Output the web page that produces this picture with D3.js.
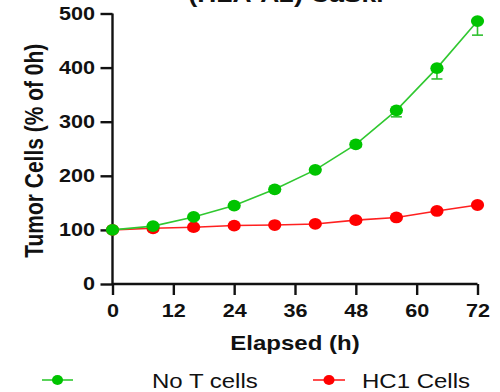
<!DOCTYPE html>
<html>
<head>
<meta charset="utf-8">
<script src="https://cdn.jsdelivr.net/npm/d3@7/dist/d3.min.js"></script>
<style>
  html, body { margin: 0; padding: 0; background: #fff; }
  svg { display: block; }
  text { font-family: "Liberation Sans", Arial, Helvetica, sans-serif; fill: #111; }
</style>
</head>
<body>
<svg id="chart" width="500" height="392"></svg>
<script>
// Time points (h) and tumor-cell growth, % of the 0 h reading
const hours = [0, 8, 16, 24, 32, 40, 48, 56, 64, 72];
const noTCells = [100, 107, 124, 145, 175, 211, 258, 321, 399, 486];
const noTCellsErr = [0, 1, 2, 3, 3, 4, 5, 12, 20, 26];
const hc1Cells = [100, 103, 105, 108, 109, 111, 118, 123, 135, 146];
const hc1CellsErr = [0, 1, 1, 1, 1, 2, 2, 2, 3, 3];
const xTicks = [0, 12, 24, 36, 48, 60, 72];
const yTicks = [0, 100, 200, 300, 400, 500];
const seriesNames = ["No T cells", "HC1 Cells"];
const titleText = "(HLA-A2) CaSki";

const SX = 1.2; // horizontal stretch of the lettering
const svg = d3.select("#chart");

const x = d3.scaleLinear().domain([0, 72]).range([112.5, 477.5]);
const y = d3.scaleLinear().domain([0, 500]).range([284, 13.5]);

// title (sits mostly above the visible area)
svg.append("text")
  .attr("transform", `translate(286,1.5) scale(${SX},1)`)
  .attr("text-anchor", "middle")
  .style("font-size", "22px").style("font-weight", "bold")
  .text(titleText);

// axes
const yAxis = svg.append("g").attr("transform", `translate(${x(0)},0)`)
  .call(d3.axisLeft(y).tickValues(yTicks).tickSize(12).tickPadding(5.5).tickSizeOuter(0));
const xAxis = svg.append("g").attr("transform", `translate(0,${y(0)})`)
  .call(d3.axisBottom(x).tickValues(xTicks).tickSize(11).tickPadding(9).tickSizeOuter(0));

[yAxis, xAxis].forEach(g => {
  g.select(".domain").attr("stroke", "#111").attr("stroke-width", 2.4);
  g.selectAll(".tick line").attr("stroke", "#111").attr("stroke-width", 2.4);
  g.selectAll(".tick text")
    .style("font-size", "18px").style("font-weight", "bold")
    .attr("fill", "#111")
    .each(function () {
      const t = d3.select(this);
      const tx = +t.attr("x") || 0;
      t.attr("x", tx / SX).attr("transform", `scale(${SX},1)`);
    });
});
yAxis.select(".domain").attr("d", `M0,${y(0) + 1}V${y(500)}`);
xAxis.select(".domain").attr("d", `M${x(0)},0H${x(72)}`);

// axis titles
svg.append("text")
  .attr("transform", `translate(${(x(0) + x(72)) / 2},350) scale(${SX},1)`)
  .attr("text-anchor", "middle")
  .style("font-size", "20px").style("font-weight", "bold")
  .text("Elapsed (h)");

svg.append("text")
  .attr("transform", `translate(43,${(y(0) + y(500)) / 2 + 2}) rotate(-90) scale(1,${SX})`)
  .attr("text-anchor", "middle")
  .style("font-size", "21px").style("font-weight", "bold")
  .text("Tumor Cells (% of 0h)");

// series
const series = [
  { name: seriesNames[1], vals: hc1Cells, err: hc1CellsErr, line: "#ff2020", dot: "#ff0000", bar: "#ff3030" },
  { name: seriesNames[0], vals: noTCells, err: noTCellsErr, line: "#30c830", dot: "#00c400", bar: "#30c030" }
];

const lineGen = d3.line().x((d, i) => x(hours[i])).y(d => y(d));

series.forEach(s => {
  const g = svg.append("g");
  // lower error bars
  const eb = g.selectAll(".eb").data(s.vals).enter().append("g");
  eb.append("line")
    .attr("x1", (d, i) => x(hours[i])).attr("x2", (d, i) => x(hours[i]))
    .attr("y1", d => y(d)).attr("y2", (d, i) => y(d - s.err[i]))
    .attr("stroke", s.bar).attr("stroke-width", 1.6);
  eb.append("line")
    .attr("x1", (d, i) => x(hours[i]) - 5.5).attr("x2", (d, i) => x(hours[i]) + 5.5)
    .attr("y1", (d, i) => y(d - s.err[i])).attr("y2", (d, i) => y(d - s.err[i]))
    .attr("stroke", s.bar).attr("stroke-width", 1.6);
  g.append("path").datum(s.vals)
    .attr("d", lineGen).attr("fill", "none")
    .attr("stroke", s.line).attr("stroke-width", 1.6);
  g.selectAll("ellipse").data(s.vals).enter().append("ellipse")
    .attr("cx", (d, i) => x(hours[i])).attr("cy", d => y(d))
    .attr("rx", 6.6).attr("ry", 5.9)
    .attr("fill", s.dot);
});

// legend
const legend = [
  { name: seriesNames[0], x0: 42, x1: 73, tx: 152, line: "#30c830", dot: "#00c400" },
  { name: seriesNames[1], x0: 313, x1: 345, tx: 362, line: "#ff2020", dot: "#ff0000" }
];
legend.forEach(l => {
  svg.append("line").attr("x1", l.x0).attr("x2", l.x1).attr("y1", 380).attr("y2", 380)
    .attr("stroke", l.line).attr("stroke-width", 1.6);
  svg.append("ellipse").attr("cx", (l.x0 + l.x1) / 2).attr("cy", 380)
    .attr("rx", 5.5).attr("ry", 5).attr("fill", l.dot);
  svg.append("text")
    .attr("transform", `translate(${l.tx},388) scale(${SX},1)`)
    .style("font-size", "20px")
    .text(l.name);
});
</script>
</body>
</html>
